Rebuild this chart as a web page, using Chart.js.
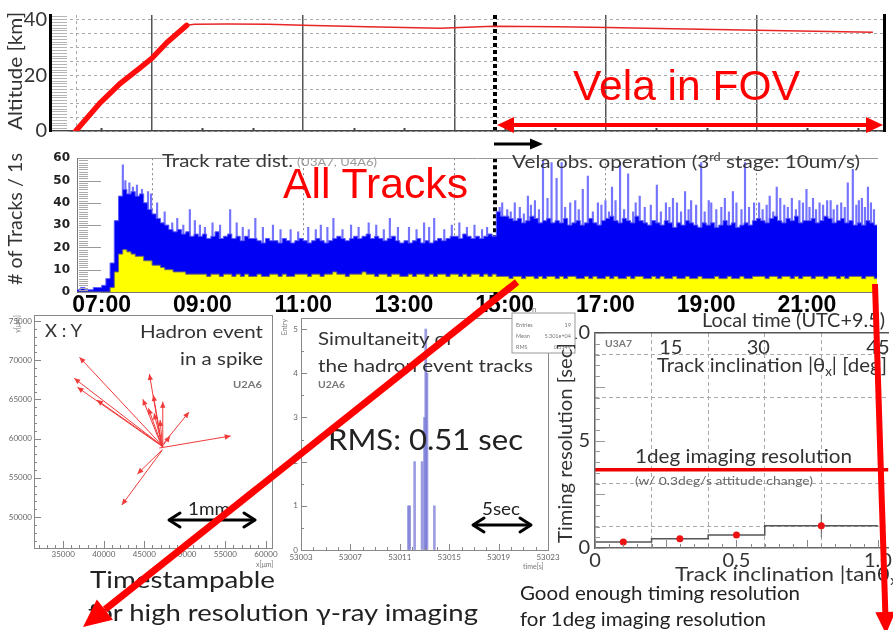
<!DOCTYPE html>
<html lang="en">
<head>
<meta charset="utf-8">
<title>Flight track-rate summary</title>
<script src="https://cdn.jsdelivr.net/npm/chart.js@4.4.1/dist/chart.umd.min.js"></script>
<style>
  html, body { margin: 0; padding: 0; background: #fff; }
  #stage { position: relative; width: 893px; height: 630px; overflow: hidden; background: #fff; }
  #stage canvas { position: absolute; }
  #notes { position: absolute; left: 0; top: 0; pointer-events: none; }
</style>
</head>
<body>
<div id="stage">
  <canvas id="alt"  width="893" height="146" style="left:0;top:0"></canvas>
  <canvas id="rate" width="893" height="176" style="left:0;top:144px"></canvas>
  <canvas id="xy"   width="285" height="270" style="left:0;top:305px"></canvas>
  <canvas id="hist" width="285" height="270" style="left:282px;top:305px"></canvas>
  <canvas id="res"  width="333" height="300" style="left:560px;top:300px"></canvas>

  <svg id="notes" width="893" height="630" xmlns="http://www.w3.org/2000/svg" font-family="Lato, 'DejaVu Sans', sans-serif">
    <!-- axis titles of the two time panels -->
    <text transform="translate(22,71) rotate(-90)" text-anchor="middle" font-size="19" fill="#333" textLength="118" lengthAdjust="spacingAndGlyphs">Altitude [km]</text>
    <text transform="translate(22,219) rotate(-90)" text-anchor="middle" font-size="19" fill="#333" textLength="132" lengthAdjust="spacingAndGlyphs"># of Tracks / 1s</text>

    <text x="162" y="167" font-size="17" fill="#3a3a3a" textLength="131" lengthAdjust="spacingAndGlyphs">Track rate dist.</text>
    <text x="297" y="166" font-size="11" fill="#9a9a9a" textLength="80" lengthAdjust="spacingAndGlyphs">(U3A7, U4A6)</text>
    <text x="512" y="168" font-size="18" fill="#3a3a3a" textLength="348" lengthAdjust="spacingAndGlyphs">Vela obs. operation (3<tspan font-size="11" dy="-7">rd</tspan><tspan dy="7"> stage: 10um/s)</tspan></text>
    <text x="702" y="327" font-size="19" fill="#333" textLength="183" lengthAdjust="spacingAndGlyphs">Local time (UTC+9.5)</text>

    <!-- hadron event panel -->
    <text x="45" y="337" font-size="17" fill="#333" textLength="37" lengthAdjust="spacingAndGlyphs">X : Y</text>
    <text x="140" y="338" font-size="17" fill="#333" textLength="123" lengthAdjust="spacingAndGlyphs">Hadron event</text>
    <text x="180" y="365" font-size="17" fill="#333" textLength="83" lengthAdjust="spacingAndGlyphs">in a spike</text>
    <text x="233" y="388" font-size="9" font-weight="bold" fill="#777" textLength="29" lengthAdjust="spacingAndGlyphs">U2A6</text>
    <text transform="translate(20,324) rotate(-90)" text-anchor="middle" font-size="7" fill="#777">y[μm]</text>
    <text x="256" y="567" font-size="7" fill="#777">x[μm]</text>
    <text x="188" y="515" font-size="17" fill="#222" textLength="42" lengthAdjust="spacingAndGlyphs">1mm</text>
    <g stroke="#000" stroke-width="3" fill="none" stroke-linecap="round" stroke-linejoin="round">
      <line x1="170" y1="520" x2="254" y2="520"/>
      <polyline points="180,513 169,520 180,527"/>
      <polyline points="244,513 255,520 244,527"/>
    </g>

    <!-- simultaneity panel -->
    <text x="318" y="345" font-size="18" fill="#333" textLength="135" lengthAdjust="spacingAndGlyphs">Simultaneity of</text>
    <text x="318" y="372" font-size="18" fill="#333" textLength="215" lengthAdjust="spacingAndGlyphs">the hadron event tracks</text>
    <text x="318" y="388" font-size="9" font-weight="bold" fill="#777" textLength="27" lengthAdjust="spacingAndGlyphs">U2A6</text>
    <text x="328" y="450" font-size="28" fill="#222" textLength="195" lengthAdjust="spacingAndGlyphs">RMS: 0.51 sec</text>
    <text transform="translate(287,327) rotate(-90)" text-anchor="middle" font-size="7" fill="#777">Entry</text>
    <text x="523" y="569" font-size="7" fill="#777">time[s]</text>
    <text x="482" y="515" font-size="17" fill="#222" textLength="38" lengthAdjust="spacingAndGlyphs">5sec</text>
    <g stroke="#000" stroke-width="3" fill="none" stroke-linecap="round" stroke-linejoin="round">
      <line x1="474" y1="525" x2="530" y2="525"/>
      <polyline points="484,518 473,525 484,532"/>
      <polyline points="520,518 531,525 520,532"/>
    </g>
    <text x="532" y="312" font-size="8" fill="#777">n</text>
    <rect x="512" y="313" width="63" height="40" fill="#fff" stroke="#999" stroke-width="1"/>
    <g font-size="5.5" fill="#777">
      <text x="516" y="327">Entries</text><text x="571" y="327" text-anchor="end">19</text>
      <text x="516" y="338">Mean</text><text x="571" y="338" text-anchor="end">5.301e+04</text>
      <text x="516" y="349">RMS</text><text x="571" y="349" text-anchor="end">0.5149</text>
    </g>

    <!-- timing resolution panel -->
    <text x="605" y="347" font-size="9" font-weight="bold" fill="#777" textLength="27" lengthAdjust="spacingAndGlyphs">U3A7</text>
    <text x="657" y="372" font-size="20" fill="#333" textLength="230" lengthAdjust="spacingAndGlyphs">Track inclination |θ<tspan font-size="13" dy="4">x</tspan><tspan dy="-4">| [deg]</tspan></text>
    <text x="635" y="463" font-size="20" fill="#333" textLength="217" lengthAdjust="spacingAndGlyphs">1deg imaging resolution</text>
    <text x="635" y="485" font-size="12" fill="#666" textLength="178" lengthAdjust="spacingAndGlyphs">(w/ 0.3deg/s attitude change)</text>
    <text x="675" y="581" font-size="20" fill="#333" textLength="228" lengthAdjust="spacingAndGlyphs">Track inclination |tanθ<tspan font-size="13" dy="4">x</tspan><tspan dy="-4">|</tspan></text>
    <text transform="translate(572,443) rotate(-90)" text-anchor="middle" font-size="20" fill="#333" textLength="200" lengthAdjust="spacingAndGlyphs">Timing resolution [sec]</text>

    <!-- captions -->
    <text x="90" y="588" font-size="23" fill="#222" textLength="185" lengthAdjust="spacingAndGlyphs">Timestampable</text>
    <text x="88" y="621" font-size="23" fill="#222" textLength="390" lengthAdjust="spacingAndGlyphs">for high resolution γ-ray imaging</text>
    <text x="520" y="600" font-size="19" fill="#222" textLength="280" lengthAdjust="spacingAndGlyphs">Good enough timing resolution</text>
    <text x="520" y="626" font-size="19" fill="#222" textLength="246" lengthAdjust="spacingAndGlyphs">for 1deg imaging resolution</text>

    <!-- highlights -->
    <g font-family="'Liberation Sans', Arial, sans-serif" fill="#ff0000">
      <text x="573" y="100" font-size="42" textLength="227" lengthAdjust="spacingAndGlyphs">Vela in FOV</text>
      <text x="283" y="198" font-size="42" textLength="185" lengthAdjust="spacingAndGlyphs">All Tracks</text>
    </g>
    <line x1="510" y1="125" x2="870" y2="125" stroke="#ff0000" stroke-width="4"/>
    <polygon points="497,125 514,117 514,133" fill="#ff0000"/>
    <polygon points="883,125 866,117 866,133" fill="#ff0000"/>

    <line x1="494" y1="144" x2="532" y2="144" stroke="#000" stroke-width="3"/>
    <polygon points="543,144 530,138.5 530,149.5" fill="#000"/>

    <line x1="517" y1="282" x2="105" y2="609.6" stroke="#ff0000" stroke-width="7"/>
    <polygon points="83,627 113,619.8 96.8,599.4" fill="#ff0000"/>
    <line x1="875" y1="284" x2="885.3" y2="612" stroke="#ff0000" stroke-width="6"/>
    <polygon points="886,634 895.3,611.7 875.3,612.3" fill="#ff0000"/>
  </svg>
</div>

<script>
// ---------------- flight profile ----------------
// local time [h] and altitude [km]
const flightTime = [6.49, 6.97, 7.37, 7.76, 8.00, 8.30, 8.69, 8.85, 9.5, 10.3, 11.0, 12.27, 13.72, 14.77, 16.04, 17.03, 18.34, 20.0, 22.3];
const altitudeKm = [0, 10, 17, 22.5, 26, 31.7, 37.8, 38.2, 38.3, 38.2, 37.8, 37.3, 36.8, 37.5, 37.3, 37.0, 36.6, 36.0, 35.3];
const ascentEnd = 8.69;          // level flight reached
const velaStart = 14.8;          // start of Vela observation
const gridHours = [8, 11, 14, 17, 20];
const timeTicks = [7, 9, 11, 13, 15, 17, 19, 21];
const altTicks = [0, 5, 10, 15, 20, 25, 30, 35, 40];
const altLabels = [0, 20, 40];

// ---------------- track rate (5-minute bins from 06:30) ----------------
const rateBinStart = 6.5;
const rateBinMinutes = 5;
const allTracks = [
  1, 2, 1, 1, 2, 2,
  3, 6, 13, 32, 43, 46, 44, 45, 43, 44, 40, 37,
  35, 33, 31, 30, 28, 27, 28, 26, 27, 25, 26, 25,
  26, 24, 25, 27, 24, 25, 26, 24, 25, 23, 25, 24,
  24, 23, 22, 24, 23, 23, 22, 24, 23, 22, 23, 24,
  23, 22, 23, 24, 23, 22, 23, 24, 25, 24, 23, 24,
  25, 24, 25, 26, 24, 25, 24, 23, 24, 25, 23, 22,
  23, 22, 23, 24, 22, 23, 22, 23, 24, 23, 24, 25,
  25, 24, 26, 25, 24, 25, 24, 25, 26, 25, 36, 34,
  34, 33, 32, 33, 31, 32, 34, 33, 31, 32, 33, 31,
  32, 31, 33, 30, 31, 32, 30, 31, 33, 31, 30, 32,
  33, 34, 32, 31, 33, 32, 31, 34, 32, 31, 30, 32,
  31, 30, 32, 31, 29, 31, 30, 32, 31, 30, 29, 31,
  30, 31, 29, 30, 32, 30, 31, 29, 30, 31, 30, 32,
  33, 32, 31, 33, 34, 32, 31, 33, 32, 34, 31, 32,
  32, 33, 31, 32, 34, 33, 31, 32, 33, 31, 32, 30,
  31, 30, 32, 31, 30
];
const selectedTracks = [
  0, 0, 0, 0, 0, 0,
  0, 0, 2, 9, 17, 19, 18, 17, 16, 16, 14, 14,
  12, 12, 11, 10, 10, 9, 9, 9, 8, 8, 8, 8,
  8, 7, 8, 8, 7, 8, 8, 7, 8, 7, 8, 7,
  7, 8, 7, 7, 8, 8, 7, 8, 7, 7, 8, 8,
  8, 7, 8, 8, 7, 8, 8, 9, 8, 8, 7, 8,
  8, 8, 9, 8, 8, 7, 8, 8, 7, 8, 8, 7,
  7, 8, 7, 8, 8, 7, 8, 7, 8, 8, 7, 8,
  8, 7, 8, 7, 8, 8, 7, 8, 7, 8, 7, 7,
  7, 6, 7, 7, 6, 7, 7, 6, 7, 6, 7, 7,
  6, 7, 6, 7, 7, 6, 6, 7, 6, 7, 6, 6,
  7, 6, 7, 6, 6, 7, 6, 7, 7, 6, 6, 7,
  6, 7, 6, 6, 7, 6, 6, 7, 6, 6, 7, 6,
  6, 6, 7, 6, 6, 7, 6, 6, 7, 6, 6, 7,
  7, 7, 6, 7, 7, 6, 7, 7, 6, 7, 6, 7,
  7, 6, 7, 7, 6, 7, 7, 6, 7, 6, 7, 7,
  7, 6, 7, 7, 6
];
// single-second bursts above the binned rate
const spikeTime = [7.42, 7.47, 7.55, 7.62, 7.7, 7.8, 7.92, 7.98, 8.1, 8.25, 8.5, 8.75, 8.95, 9.2, 9.55, 9.8,
  10.05, 10.4, 10.75, 11.1, 11.35, 11.6, 11.95, 12.3, 12.72, 13.1, 13.4, 13.6, 14.1, 14.4, 14.65,
  14.9, 15.2, 15.46, 15.6, 15.76, 15.93, 16.03, 16.13, 16.3, 16.55, 16.65, 16.85, 17.0, 17.13, 17.29,
  17.45, 17.68, 17.9, 18.02, 18.2, 18.34, 18.58, 18.7, 18.9, 19.1, 19.37, 19.53, 19.77, 19.95, 20.26,
  20.4, 20.55, 20.7, 20.85, 20.99, 21.25, 21.4, 21.6, 21.81, 21.91, 22.09, 22.21];
const spikeValue = [57, 50, 49, 47, 48, 46, 45, 44, 40, 36, 33, 37, 30, 31, 37, 29,
  33, 30, 28, 29, 30, 33, 30, 31, 33, 29, 31, 33, 31, 30, 29,
  38, 40, 43, 41, 59, 58, 51, 58, 40, 46, 52, 40, 41, 47, 58,
  53, 43, 39, 48, 40, 42, 45, 41, 58, 40, 42, 45, 58, 40, 43,
  47, 39, 42, 41, 46, 40, 41, 39, 49, 55, 42, 47];
// smaller fluctuations riding on the binned rate
const flickerTime = [8.4, 8.62, 8.85, 9.05, 9.35, 9.68, 9.92, 10.2, 10.55, 10.9, 11.25, 11.48, 11.78, 12.1, 12.45,
  12.6, 12.88, 13.25, 13.5, 13.8, 13.95, 14.25, 14.55,
  14.95, 15.05, 15.12, 15.3, 15.38, 15.52, 15.68, 15.85, 16.2, 16.4, 16.47, 16.75, 16.92, 17.07, 17.2,
  17.37, 17.55, 17.6, 17.78, 18.1, 18.27, 18.42, 18.5, 18.65, 18.8, 18.97, 19.05, 19.2, 19.3, 19.45,
  19.6, 19.7, 19.85, 20.05, 20.12, 20.2, 20.33, 20.47, 20.62, 20.78, 20.92, 21.05, 21.12, 21.18, 21.32,
  21.47, 21.53, 21.68, 21.75, 21.98, 22.03, 22.15, 22.27, 22.33];
const flickerValue = [31, 30, 32, 29, 30, 31, 28, 29, 28, 27, 28, 29, 28, 29, 30,
  28, 29, 28, 29, 28, 30, 29, 28,
  40, 37, 36, 38, 35, 39, 37, 42, 38, 41, 37, 36, 39, 36, 41,
  37, 36, 40, 38, 36, 38, 40, 36, 37, 39, 36, 41, 37, 38, 36,
  40, 37, 38, 40, 37, 39, 36, 42, 38, 37, 40, 38, 42, 37, 39,
  41, 37, 40, 38, 39, 41, 38, 40, 37];
const rateTicks = [0, 10, 20, 30, 40, 50, 60];

// ---------------- hadron event (positions in um) ----------------
const trackX0 = [47300, 47250, 47280, 47200, 47150, 47100, 47180, 47220, 47260, 47200, 47250, 47380, 47280, 46850, 47230, 47200];
const trackY0 = [59000, 59050, 58950, 59100, 59000, 59150, 59050, 58900, 59000, 59100, 58950, 59400, 59100, 58800, 58600, 58500];
const trackX1 = [37010, 36355, 36760, 39150, 45630, 44820, 45510, 46120, 47280, 46210, 46950, 50520, 48180, 55660, 44150, 42230];
const trackY1 = [70380, 67700, 66550, 64930, 68250, 65020, 63870, 65570, 64710, 63230, 62380, 63400, 60340, 60340, 55490, 51530];
const xyTicksX = [35000, 40000, 45000, 50000, 55000, 60000];
const xyTicksY = [50000, 55000, 60000, 65000, 70000, 75000];

// ---------------- track time spread (0.1 s bins) ----------------
const histTime = [53011.7, 53011.8, 53012.2, 53012.8, 53013.0, 53013.1, 53013.2, 53013.8];
const histEntries = [1, 1, 2, 2, 3, 5, 4, 1];
const histTicksX = [53003, 53007, 53011, 53015, 53019, 53023];
const histTicksY = [0, 1, 2, 3, 4, 5];

// ---------------- timing resolution vs inclination ----------------
const tanBinLow = [0, 0.2, 0.4, 0.6];
const tanBinHigh = [0.2, 0.4, 0.6, 1.0];
const tanCenter = [0.1, 0.3, 0.5, 0.8];
const timingRes = [0.28, 0.43, 0.61, 1.04];
const timingErr = [0.04, 0.04, 0.05, 0.55];
const imagingLimit = 3.63;
const thetaTicks = [15, 30, 45];
const tanTicks = [0, 0.5, 1.0];
const resTicks = [0, 5, 10];
const resGridX = [0.2, 0.4, 0.6, 0.8];
const resGridY = [1, 3, 7, 9];

// ---------------- helpers ----------------
Chart.defaults.font.family = 'Lato, "DejaVu Sans", sans-serif';
Chart.defaults.animation = false;
Chart.defaults.responsive = false;
Chart.defaults.plugins.legend.display = false;
Chart.defaults.plugins.tooltip.enabled = false;

const setTicks = vals => s => { s.ticks = vals.map(v => ({ value: v })); };
const fixW = w => s => { s.width = w; };
const fixH = h => s => { s.height = h; };
const steps = (lo, hi, d) => { const out = []; for (let v = lo; v <= hi + 1e-9; v += d) out.push(+v.toFixed(6)); return out; };

// an axis that only contributes grid lines or a border
function lineAxis(axis, pos, min, max, at, grid, border, weight) {
  return {
    type: 'linear', axis, position: pos, min, max, weight: weight || 0,
    afterBuildTicks: setTicks(at),
    ticks: { display: false, autoSkip: false },
    grid: Object.assign({ drawTicks: false }, grid || {}),
    border: Object.assign({ display: false }, border || {}),
    afterFit: axis === 'x' ? fixH(0) : fixW(0)
  };
}

// tick marks pointing into the plot frame (length < 0 points outwards)
const frameTicks = {
  id: 'frameTicks',
  afterDatasetsDraw(chart, args, opts) {
    const { ctx, chartArea: ca } = chart;
    (opts.sets || []).forEach(s => {
      const scale = chart.scales[s.scale];
      ctx.save();
      ctx.strokeStyle = s.color;
      ctx.lineWidth = s.width || 1;
      ctx.setLineDash(s.dash || []);
      ctx.beginPath();
      s.values.forEach(v => {
        const p = Math.round(scale.getPixelForValue(v)) + 0.5;
        if (scale.isHorizontal()) {
          const y0 = s.edge === 'top' ? ca.top : ca.bottom;
          const dir = s.edge === 'top' ? 1 : -1;
          ctx.moveTo(p, y0 + dir * (s.gap || 0));
          ctx.lineTo(p, y0 + dir * ((s.gap || 0) + s.length));
        } else {
          const x0 = s.edge === 'right' ? ca.right : ca.left;
          const dir = s.edge === 'right' ? -1 : 1;
          ctx.moveTo(x0 + dir * (s.gap || 0), p);
          ctx.lineTo(x0 + dir * ((s.gap || 0) + s.length), p);
        }
      });
      ctx.stroke();
      ctx.restore();
    });
  }
};

// ---------------- altitude panel ----------------
const altMinT = 5.98, altMaxT = 22.52, altMax = 41.5;
const altPts = flightTime.map((t, i) => ({ x: t, y: altitudeKm[i] }));
new Chart(document.getElementById('alt'), {
  type: 'line',
  data: { datasets: [
    { data: altPts.filter(p => p.x <= ascentEnd), borderColor: '#ff0d0d', borderWidth: 5.5, pointRadius: 0, borderCapStyle: 'round' },
    { data: altPts.filter(p => p.x >= ascentEnd), borderColor: '#e82525', borderWidth: 1.5, pointRadius: 0 }
  ]},
  plugins: [frameTicks],
  options: {
    layout: { padding: { left: 0, right: 9, top: 8, bottom: 3 } },
    plugins: { frameTicks: { sets: [
      { scale: 'y', edge: 'left', values: steps(0, 41, 1), length: 15, gap: 2, color: '#b5b5b5' },
      { scale: 'x', edge: 'bottom', values: [7, 9, 10, 12, 13, 15, 16, 18, 19, 21, 22], length: 3, color: '#444', width: 2 }
    ] } },
    scales: {
      x: { type: 'linear', min: altMinT, max: altMaxT, position: 'bottom', weight: 5,
           afterBuildTicks: setTicks(gridHours), ticks: { display: false },
           grid: { color: '#555', lineWidth: 1.5, drawTicks: false },
           border: { color: '#444', width: 1.5 }, afterFit: fixH(0) },
      xd: lineAxis('x', 'bottom', altMinT, altMaxT, [6.5], { color: '#aaa' }, { dash: [3, 3] }),
      xv: lineAxis('x', 'bottom', altMinT, altMaxT, [velaStart], { color: '#000', lineWidth: 4 }, { dash: [4, 3] }),
      y: { type: 'linear', min: 0, max: altMax, position: 'left',
           afterBuildTicks: setTicks(altTicks),
           ticks: { autoSkip: false, padding: 3, color: '#333', font: { size: 20 },
                    callback: v => altLabels.includes(v) ? String(v) : '' },
           grid: { color: '#aaa', lineWidth: 1, drawTicks: false },
           border: { color: '#000', width: 3, dash: [3, 3] }, afterFit: fixW(50) },
      yr: lineAxis('y', 'right', 0, altMax, [], { display: false }, { display: true, color: '#000', width: 3 })
    }
  }
});

// ---------------- track-rate panel ----------------
const rateMinT = 6.51, rateMaxT = 22.39;
const binHours = rateBinMinutes / 60;
const toSteps = vals => {
  const pts = vals.map((v, i) => ({ x: rateBinStart + i * binHours, y: v }));
  pts.push({ x: rateBinStart + vals.length * binHours, y: vals[vals.length - 1] });
  return pts;
};
const toBars = (ts, vs) => ts.map((t, i) => ({ x: t, y: vs[i] }));
new Chart(document.getElementById('rate'), {
  type: 'line',
  data: { datasets: [
    { data: toSteps(selectedTracks), stepped: true, fill: 'origin', backgroundColor: '#ffff00',
      borderColor: '#6d6d6d', borderWidth: 1, pointRadius: 0, order: 1 },
    { data: toSteps(allTracks), stepped: true, fill: 'origin', backgroundColor: '#0000f4',
      borderColor: '#5a5aff', borderWidth: 1, pointRadius: 0, order: 2 },
    { type: 'bar', data: toBars(spikeTime, spikeValue).concat(toBars(flickerTime, flickerValue)),
      backgroundColor: '#7474ff', barThickness: 1.5, order: 3 }
  ]},
  plugins: [frameTicks],
  options: {
    layout: { padding: { left: 0, right: 16, top: 4, bottom: 0 } },
    plugins: { frameTicks: { sets: [
      { scale: 'y', edge: 'left', values: steps(0, 60, 1), length: 9, gap: 2, color: '#aaa' },
      { scale: 'y', edge: 'left', values: rateTicks, length: 22, gap: 2, color: '#999' },
      { scale: 'x', edge: 'bottom', values: [velaStart], length: -7, color: '#000', width: 4, dash: [4, 3] }
    ] } },
    scales: {
      x: { type: 'linear', min: rateMinT, max: rateMaxT, position: 'bottom', weight: 10, offset: false,
           afterBuildTicks: setTicks(timeTicks),
           ticks: { autoSkip: false, maxRotation: 0, minRotation: 0, padding: 0, color: '#000',
                    font: { family: '"Liberation Sans", Arial, sans-serif', size: 23, weight: 'bold' },
                    callback: v => (v < 10 ? '0' : '') + v + ':00' },
           grid: { drawOnChartArea: false, drawTicks: false, offset: false },
           border: { color: '#777', width: 1 }, afterFit: fixH(28) },
      xg: lineAxis('x', 'bottom', rateMinT, rateMaxT, gridHours, { color: '#888' }, { dash: [2, 3] }),
      xv: lineAxis('x', 'bottom', rateMinT, rateMaxT, [velaStart], { color: '#000', lineWidth: 4 }, { dash: [4, 3] }),
      xt: lineAxis('x', 'top', rateMinT, rateMaxT, [], { display: false }, { display: true, color: '#999', width: 1 }),
      y: { type: 'linear', min: 0, max: 60, position: 'left',
           afterBuildTicks: setTicks(rateTicks),
           ticks: { autoSkip: false, padding: 7, color: '#222',
                    font: { family: '"DejaVu Sans", sans-serif', size: 12, weight: 'bold' } },
           grid: { drawOnChartArea: false, drawTicks: false },
           border: { color: '#777', width: 1 }, afterFit: fixW(77) }
    }
  }
});

// ---------------- hadron event (X : Y) ----------------
const xyMin = [31400, 46050], xyMax = [60750, 75770];
const trackPts = [];
trackX0.forEach((x0, i) => {
  trackPts.push({ x: x0, y: trackY0[i] }, { x: trackX1[i], y: trackY1[i] }, { x: trackX1[i], y: null });
});
const arrowHeads = {
  id: 'arrowHeads',
  afterDatasetsDraw(chart, args, opts) {
    const { ctx, chartArea, scales: { x, y } } = chart;
    ctx.save();
    ctx.beginPath();
    ctx.rect(chartArea.left, chartArea.top, chartArea.width, chartArea.height);
    ctx.clip();
    ctx.fillStyle = opts.color;
    trackX1.forEach((xe, i) => {
      const px0 = x.getPixelForValue(trackX0[i]), py0 = y.getPixelForValue(trackY0[i]);
      const px1 = x.getPixelForValue(xe), py1 = y.getPixelForValue(trackY1[i]);
      const a = Math.atan2(py1 - py0, px1 - px0), L = opts.size, W = opts.size * 0.45;
      ctx.beginPath();
      ctx.moveTo(px1, py1);
      ctx.lineTo(px1 - L * Math.cos(a) + W * Math.sin(a), py1 - L * Math.sin(a) - W * Math.cos(a));
      ctx.lineTo(px1 - L * Math.cos(a) - W * Math.sin(a), py1 - L * Math.sin(a) + W * Math.cos(a));
      ctx.closePath();
      ctx.fill();
    });
    ctx.restore();
  }
};
const tinyTicks = { autoSkip: false, maxRotation: 0, minRotation: 0, color: '#666', font: { size: 8 }, callback: v => String(v) };
new Chart(document.getElementById('xy'), {
  type: 'scatter',
  data: { datasets: [{ data: trackPts, showLine: true, spanGaps: false, borderColor: '#f03a3a', borderWidth: 1, pointRadius: 0 }] },
  plugins: [arrowHeads, frameTicks],
  options: {
    layout: { padding: { left: 0, right: 13, top: 10, bottom: 0 } },
    plugins: {
      arrowHeads: { color: '#f03a3a', size: 6 },
      frameTicks: { sets: [
        { scale: 'x', edge: 'bottom', values: steps(32000, 60000, 1000), length: 3, color: '#888' },
        { scale: 'x', edge: 'bottom', values: xyTicksX, length: 7, color: '#888' },
        { scale: 'y', edge: 'left', values: steps(47000, 75000, 1000), length: 3, color: '#888' },
        { scale: 'y', edge: 'left', values: xyTicksY, length: 7, color: '#888' }
      ] }
    },
    scales: {
      x: { type: 'linear', min: xyMin[0], max: xyMax[0], afterBuildTicks: setTicks(xyTicksX),
           ticks: Object.assign({ padding: 2 }, tinyTicks),
           grid: { drawOnChartArea: false, drawTicks: false }, border: { color: '#888' }, afterFit: fixH(27) },
      y: { type: 'linear', min: xyMin[1], max: xyMax[1], afterBuildTicks: setTicks(xyTicksY),
           ticks: Object.assign({ padding: 2 }, tinyTicks),
           grid: { drawOnChartArea: false, drawTicks: false }, border: { color: '#888' }, afterFit: fixW(34) },
      xt: lineAxis('x', 'top', xyMin[0], xyMax[0], [], { display: false }, { display: true, color: '#888' }),
      yr: lineAxis('y', 'right', xyMin[1], xyMax[1], [], { display: false }, { display: true, color: '#888' })
    }
  }
});

// ---------------- simultaneity histogram ----------------
const hMinX = 53003, hMaxX = 53023, hMaxY = 5.25;
new Chart(document.getElementById('hist'), {
  type: 'bar',
  data: { datasets: [{ data: histTime.map((t, i) => ({ x: t, y: histEntries[i] })),
                       backgroundColor: 'rgba(118,118,214,0.72)', barThickness: 2, grouped: false }] },
  plugins: [frameTicks],
  options: {
    layout: { padding: { left: 0, right: 19, top: 13, bottom: 0 } },
    plugins: { frameTicks: { sets: [
      { scale: 'x', edge: 'bottom', values: steps(hMinX, hMaxX, 1), length: 3, color: '#888' },
      { scale: 'x', edge: 'bottom', values: histTicksX, length: 6, color: '#888' },
      { scale: 'y', edge: 'left', values: steps(0, 5, 0.5), length: 3, color: '#888' },
      { scale: 'y', edge: 'left', values: histTicksY, length: 6, color: '#888' }
    ] } },
    scales: {
      x: { type: 'linear', min: hMinX, max: hMaxX, offset: false, afterBuildTicks: setTicks(histTicksX),
           ticks: Object.assign({ padding: 3 }, tinyTicks),
           grid: { drawOnChartArea: false, drawTicks: false, offset: false }, border: { color: '#888' }, afterFit: fixH(25) },
      y: { type: 'linear', min: 0, max: hMaxY, afterBuildTicks: setTicks(histTicksY),
           ticks: Object.assign({ padding: 3 }, tinyTicks),
           grid: { drawOnChartArea: false, drawTicks: false }, border: { color: '#888' }, afterFit: fixW(19) },
      xt: lineAxis('x', 'top', hMinX, hMaxX, [], { display: false }, { display: true, color: '#888' }),
      yr: lineAxis('y', 'right', 0, hMaxY, [], { display: false }, { display: true, color: '#888' })
    }
  }
});

// ---------------- timing resolution ----------------
const rMaxX = 1.0365, rMaxY = 10;
const stepPts = tanBinLow.map((lo, i) => ({ x: lo, y: timingRes[i] }));
stepPts.push({ x: tanBinHigh[tanBinHigh.length - 1], y: timingRes[timingRes.length - 1] });
const errPts = [];
tanCenter.forEach((t, i) => {
  errPts.push({ x: t, y: timingRes[i] - timingErr[i] }, { x: t, y: timingRes[i] + timingErr[i] }, { x: t, y: null });
});
const tanOfDeg = d => Math.tan(d * Math.PI / 180);
new Chart(document.getElementById('res'), {
  type: 'line',
  data: { datasets: [
    { data: stepPts, stepped: true, borderColor: '#555', borderWidth: 1.5, pointRadius: 0, order: 3 },
    { data: errPts, spanGaps: false, borderColor: '#666', borderWidth: 1, pointRadius: 0, order: 2 },
    { data: tanCenter.map((t, i) => ({ x: t, y: timingRes[i] })), showLine: false,
      pointRadius: 3.5, pointBackgroundColor: '#ee1111', pointBorderWidth: 0, order: 1 }
  ]},
  plugins: [frameTicks],
  options: {
    layout: { padding: { left: 0, right: 0, top: 33, bottom: 0 } },
    plugins: { frameTicks: { sets: [
      { scale: 'x', edge: 'bottom', values: steps(0, 1, 0.05), length: 4, color: '#888' },
      { scale: 'x', edge: 'bottom', values: steps(0, 1, 0.25), length: 8, color: '#888' },
      { scale: 'y', edge: 'left', values: steps(0, 10, 0.5), length: 5, color: '#999' },
      { scale: 'y', edge: 'left', values: steps(0, 10, 2.5), length: 10, color: '#999' }
    ] } },
    scales: {
      x: { type: 'linear', min: 0, max: rMaxX, afterBuildTicks: setTicks(tanTicks),
           ticks: { autoSkip: false, maxRotation: 0, padding: 1, color: '#333', font: { size: 20 },
                    callback: v => v === 0 ? '0' : v.toFixed(1) },
           grid: { drawOnChartArea: false, drawTicks: false }, border: { color: '#666', width: 1.5 }, afterFit: fixH(52) },
      xg: lineAxis('x', 'bottom', 0, rMaxX, resGridX, { color: '#aaa' }, { dash: [4, 3] }),
      xth: { type: 'linear', axis: 'x', position: { y: rMaxY }, min: 0, max: rMaxX,
             afterBuildTicks: setTicks(thetaTicks.map(tanOfDeg)),
             ticks: { autoSkip: false, maxRotation: 0, padding: 3, color: '#333', font: { size: 20 },
                      callback: (v, i) => String(thetaTicks[i]) },
             grid: { drawOnChartArea: false, drawTicks: false }, border: { display: true, color: '#555', width: 1.5 } },
      y: { type: 'linear', min: 0, max: rMaxY, afterBuildTicks: setTicks(resTicks),
           ticks: { autoSkip: false, padding: 5, color: '#333', font: { size: 20 } },
           grid: { drawOnChartArea: false, drawTicks: false }, border: { color: '#666', width: 1.5 }, afterFit: fixW(35) },
      yg: lineAxis('y', 'left', 0, rMaxY, resGridY, { color: '#aaa' }, { dash: [4, 3] }),
      ylim: lineAxis('y', 'left', 0, rMaxY, [imagingLimit], { color: '#ee0000', lineWidth: 3.5 })
    }
  }
});
</script>
</body>
</html>
